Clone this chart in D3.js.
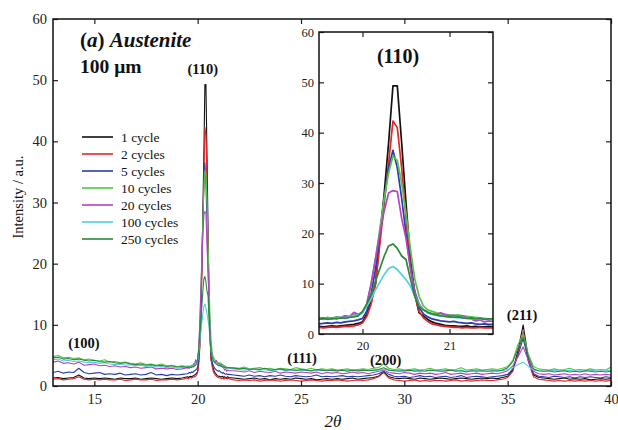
<!DOCTYPE html>
<html>
<head>
<meta charset="utf-8">
<script src="https://cdn.jsdelivr.net/npm/d3@7"></script>
<style>
    body { margin: 0; background: #fff; }
    svg { display: block; }
</style>
</head>
<body>
<div id="chart"></div>
<script>
'use strict';

/* data */

// scan segments: [start, step, count] -> coarse / fine around (110) / coarse
var scanSegments = [[13, 0.25, 26], [19.5, 0.05, 41], [21.75, 0.25, 74]];

var seriesNames = ['1 cycle', '2 cycles', '5 cycles', '10 cycles', '20 cycles', '100 cycles', '250 cycles'];
var seriesColors = ['#111111', '#e3262b', '#2b3cae', '#55c448', '#b543c4', '#52d0e2', '#2a8a3a'];

// intensity per scan point (segment A, B, C concatenated)
var cycle1 = [
    1.3,1.4,1.2,1.3,1.4,1.8,1.3,1.2,1.3,1.2,1.3,1.2,1.1,1.3,1.2,1.2,1.3,1.1,1.2,1.3,1.2,1.1,1.2,1.3,1.2,1.3,
    1.5,1.4,1.5,1.6,1.5,1.6,1.7,1.8,1.9,2.1,2.4,4.0,6.5,10,19,28,38,49.3,49.3,38,26,15,8,4.2,3.6,2.9,2.4,2.1,1.9,1.7,1.6,1.6,1.5,1.5,1.6,1.4,1.5,1.4,1.4,1.5,1.4,
    1.3,1.2,1.1,1.2,1.3,1.1,1.2,1.0,1.2,1.1, 1.2,1.1,1.3,1.2,1.1,1.2,1.0,1.1,1.2,1.1, 1.2,1.1,1.2,1.3,1.1,1.2,1.3,1.4,1.6,2.3,
    1.5,1.3,1.2,1.3,1.2,1.1,1.3,1.2,1.1,1.2, 1.3,1.2,1.1,1.2,1.3,1.2,1.1,1.2,1.3,1.2, 1.3,1.2,1.4,1.6,2.6,5.8,10.0,4.5,1.8,1.4,
    1.3,1.2,1.1,1.2,1.3,1.1,1.2,1.1,1.2,1.0, 1.1,1.2,1.1,1.2
];
var cycle2 = [
    1.1,1.2,1.0,1.1,1.2,1.5,1.1,1.0,1.1,1.0,1.1,1.0,1.0,1.1,0.9,1.0,1.1,1.0,1.0,1.1,0.9,1.0,1.0,1.1,1.0,1.1,
    1.3,1.2,1.3,1.4,1.3,1.4,1.5,1.5,1.6,1.8,2.2,3.5,6,10,18,26,34,42.3,41,33,23,14,8,4.5,3.2,2.5,2.0,1.8,1.6,1.5,1.4,1.3,1.3,1.2,1.3,1.2,1.2,1.3,1.2,1.2,1.2,
    1.0,0.9,1.0,0.9,1.0,0.8,0.9,1.0,0.9,0.8, 0.9,1.0,0.9,0.8,0.9,1.0,0.9,0.8,0.9,0.9, 1.0,0.9,0.8,0.9,1.0,0.9,1.0,1.2,1.5,2.2,
    1.3,1.0,0.9,0.8,0.9,1.0,0.8,0.9,0.8,0.9, 0.9,0.8,0.9,1.0,0.8,0.9,0.8,0.9,1.0,0.9, 0.9,1.0,1.1,1.4,2.4,5.3,8.9,4.0,1.5,1.1,
    1.0,0.9,0.8,0.9,0.8,0.9,0.8,0.9,0.8,0.9, 0.8,0.9,0.8,0.9
];
var cycle5 = [
    2.2,2.4,2.1,2.3,2.2,2.9,2.2,2.0,2.1,2.2,1.9,2.0,1.9,2.1,1.8,1.9,2.0,1.8,1.9,2.2,1.8,1.9,1.7,1.9,1.8,1.9,
    2.0,2.1,2.2,2.1,2.3,2.2,2.4,2.5,2.6,2.8,3.1,4.6,8,13,20,27,33,36.5,33,27,20,13.5,8.5,5.2,4.0,3.4,3.0,2.8,2.6,2.5,2.4,2.5,2.3,2.2,2.1,2.2,2.0,1.9,2.0,1.9,1.9,
    1.8,1.7,1.6,1.8,1.6,1.7,1.5,1.7,1.6,1.8, 1.6,1.5,1.7,1.6,1.5,1.6,1.8,1.5,1.6,1.5, 1.6,1.7,1.5,1.6,1.5,1.6,1.7,1.8,2.0,2.4,
    1.9,1.6,1.5,1.6,1.4,1.5,1.7,1.5,1.6,1.4, 1.5,1.6,1.4,1.5,1.7,1.4,1.5,1.6,1.5,1.4, 1.5,1.6,1.7,1.9,2.8,5.0,7.8,4.2,2.0,1.6,
    1.5,1.4,1.6,1.5,1.4,1.5,1.3,1.5,1.4,1.5, 1.4,1.3,1.5,1.4
];
var cycle10 = [
    4.8,5.0,4.6,4.7,4.5,4.6,4.3,4.4,4.2,4.1,4.3,3.9,4.0,3.8,3.9,3.7,3.6,3.8,3.5,3.6,3.4,3.6,3.3,3.4,3.2,3.3,
    3.2,3.0,3.3,3.1,3.4,3.3,3.6,3.5,3.8,3.9,4.2,6,10,15,21,27,32,35.3,34.5,30,24,17,11,7.5,5.6,4.8,4.5,4.2,4.0,3.9,3.8,3.7,3.8,3.6,3.5,3.4,3.3,3.2,3.1,3.0,3.0,
    3.0,2.9,3.1,2.8,2.9,3.0,2.8,2.9,2.7,2.9, 2.8,2.7,3.0,2.8,2.7,2.9,2.6,2.8,2.7,2.8, 2.6,2.7,2.8,2.6,2.7,2.8,2.7,2.9,3.0,3.6,
    2.9,2.7,2.8,2.6,2.7,2.8,2.6,2.7,2.9,2.6, 2.7,2.8,2.6,2.7,3.0,2.6,2.7,2.8,2.6,2.7, 2.8,2.7,2.9,3.2,4.2,6.8,8.6,5.2,3.2,2.8,
    2.7,2.6,2.8,2.6,2.7,2.9,2.6,2.7,2.6,2.8, 2.6,2.7,2.6,3.1
];
var cycle20 = [
    3.9,4.1,3.7,3.8,3.6,3.9,3.4,3.5,3.6,3.3,3.4,3.2,3.3,3.1,3.2,3.0,3.1,2.9,3.0,3.1,2.8,2.9,2.8,2.9,2.7,2.8,
    3.0,2.9,3.1,3.0,3.3,3.2,3.6,3.4,4.3,3.9,4.3,6,10,15,20,24.5,28,28.5,28.3,23,19,13,8.5,6,4.8,4.3,4.0,3.9,4.2,3.8,3.6,3.7,3.4,3.6,3.2,3.0,2.6,2.8,2.4,2.6,2.5,
    2.5,2.4,2.3,2.5,2.2,2.4,2.3,2.2,2.4,2.1, 2.3,2.2,2.1,2.3,2.2,2.1,2.3,2.0,2.2,2.1, 2.2,2.0,2.1,2.3,2.1,2.2,2.0,2.2,2.4,2.6,
    2.2,2.1,2.0,2.2,2.1,1.9,2.1,2.0,2.1,1.9, 2.0,2.2,1.9,2.0,2.1,1.9,2.0,2.1,1.9,2.0, 2.1,2.0,2.2,2.5,3.3,4.8,6.4,4.2,2.4,2.0,
    1.9,2.0,1.8,1.9,2.0,1.8,1.9,1.8,2.0,1.8, 1.9,1.8,1.9,1.8
];
var cycle100 = [
    4.3,4.4,4.1,4.2,4.0,4.1,3.9,3.8,3.9,3.7,3.8,3.6,3.5,3.6,3.4,3.5,3.3,3.4,3.2,3.3,3.1,3.2,3.0,3.1,2.9,3.0,
    3.3,3.1,3.0,3.2,3.1,3.3,3.2,3.4,3.6,3.8,4.2,5.5,7,8.8,10.3,11.8,13.0,13.4,12.8,11.8,10.8,9.6,7.5,5.8,4.8,4.2,3.9,3.7,3.6,3.5,3.3,3.4,3.2,3.3,3.1,3.0,3.1,2.9,3.0,2.9,2.9,
    2.8,2.7,2.6,2.8,2.7,2.6,2.7,2.5,2.6,2.7, 2.5,2.6,2.7,2.5,2.6,2.4,2.6,2.5,2.6,2.5, 2.4,2.6,2.5,2.6,2.4,2.5,2.6,2.5,2.6,2.7,
    2.6,2.5,2.6,2.4,2.5,2.6,2.5,2.7,2.5,2.6, 2.5,2.4,2.6,2.5,2.6,2.4,2.5,2.6,2.5,2.4, 2.5,2.6,2.5,2.7,3.0,3.5,3.9,3.2,2.6,2.5,
    2.4,2.5,2.6,2.4,2.5,2.6,2.4,2.5,2.4,2.6, 2.5,2.4,2.5,2.6
];
var cycle250 = [
    4.6,4.7,4.4,4.5,4.3,4.4,4.2,4.1,4.2,4.0,3.9,4.0,3.8,3.7,3.8,3.6,3.5,3.6,3.4,3.5,3.3,3.4,3.2,3.3,3.1,3.2,
    3.0,3.2,2.9,3.1,3.0,3.2,3.1,3.3,3.4,3.6,4.5,6,8,10.5,13,15.5,17.5,17.9,17,15.5,14.8,11,7.5,5.5,4.8,4.3,4.0,3.8,3.6,3.5,3.4,3.3,3.4,3.2,3.1,3.2,3.0,3.1,2.9,3.0,3.0,
    2.9,2.8,2.9,2.7,2.8,2.7,2.9,2.6,2.7,2.8, 2.6,2.7,2.5,2.7,2.6,2.5,2.7,2.6,2.5,2.6, 2.5,2.6,2.4,2.6,2.5,2.6,2.5,2.6,2.7,3.0,
    2.6,2.5,2.4,2.5,2.6,2.4,2.5,2.4,2.6,2.5, 2.4,2.5,2.6,2.4,2.5,2.3,2.5,2.4,2.5,2.4, 2.5,2.4,2.6,3.0,4.0,6.2,8.0,4.8,2.8,2.5,
    2.4,2.5,2.3,2.4,2.5,2.3,2.4,2.3,2.5,2.4, 2.3,2.4,2.3,2.4
];

var seriesValues = [cycle1, cycle2, cycle5, cycle10, cycle20, cycle100, cycle250];

var xTicks = [15, 20, 25, 30, 35, 40];
var yTicks = [0, 10, 20, 30, 40, 50, 60];
var insetXTicks = [20, 21];
var insetYTicks = [0, 10, 20, 30, 40, 50, 60];

var peakLabels = [
    {text: '(110)', at: [20.25, 51]},
    {text: '(100)', at: [14.5, 6.2]},
    {text: '(111)', at: [25.05, 3.7]},
    {text: '(200)', at: [29.1, 3.4]},
    {text: '(211)', at: [35.7, 10.8]}
];

(function drawChart() {

    var width = 618, height = 430;
    var box = {left: 53, top: 19, right: 611, bottom: 386};
    var inBox = {left: 319, top: 32, right: 493, bottom: 334};
    var serif = '"Liberation Serif", "Times New Roman", Times, serif';

    /* scan positions */

    var twoTheta = [];
    scanSegments.forEach(function (seg) {
        for (var i = 0; i < seg[2]; i++) {
            twoTheta.push(Math.round((seg[0] + seg[1] * i) * 100) / 100);
        }
    });

    var series = seriesNames.map(function (name, k) {
        return {
            name: name,
            color: seriesColors[k],
            points: twoTheta.map(function (t, i) { return [t, seriesValues[k][i]]; })
        };
    });

    var svg = d3.select('#chart').append('svg')
        .attr('width', width)
        .attr('height', height)
        .attr('font-family', serif)
        .attr('fill', '#111')
    ;

    /* main plot */

    var x = d3.scaleLinear().domain([13, 40]).range([box.left, box.right]);
    var y = d3.scaleLinear().domain([0, 60]).range([box.bottom, box.top]);

    svg.append('clipPath').attr('id', 'main-clip')
        .append('rect')
        .attr('x', box.left).attr('y', box.top)
        .attr('width', box.right - box.left).attr('height', box.bottom - box.top)
    ;

    var line = d3.line()
        .x(function (d) { return x(d[0]); })
        .y(function (d) { return y(d[1]); })
    ;

    svg.append('g').attr('clip-path', 'url(#main-clip)')
        .selectAll('path')
        .data(series)
        .enter()
        .append('path')
        .attr('d', function (d) { return line(d.points); })
        .attr('fill', 'none')
        .attr('stroke', function (d) { return d.color; })
        .attr('stroke-width', 1.1)
        .attr('stroke-linejoin', 'round')
    ;

    drawAxes(svg, x, y, box, xTicks, yTicks, 14.5, 8, 6);

    /* --- labels */

    svg.append('g')
        .selectAll('text')
        .data(peakLabels)
        .enter()
        .append('text')
        .attr('x', function (d) { return x(d.at[0]); })
        .attr('y', function (d) { return y(d.at[1]); })
        .attr('text-anchor', 'middle')
        .attr('font-size', 14.5)
        .attr('font-weight', 'bold')
        .text(function (d) { return d.text; })
    ;

    var title = svg.append('text')
        .attr('x', 80).attr('y', 47)
        .attr('font-size', 21)
        .attr('font-weight', 'bold')
    ;
    title.append('tspan').text('(');
    title.append('tspan').attr('font-style', 'italic').text('a');
    title.append('tspan').text(') ');
    title.append('tspan').attr('font-style', 'italic').text('Austenite');

    svg.append('text')
        .attr('x', 80).attr('y', 73)
        .attr('font-size', 19.5)
        .attr('font-weight', 'bold')
        .text('100 \u03bcm')
    ;

    svg.append('text')
        .attr('transform', 'translate(23,197) rotate(-90)')
        .attr('text-anchor', 'middle')
        .attr('font-size', 14.5)
        .text('Intensity / a.u.')
    ;

    // axis title sits at the very bottom edge
    svg.append('text')
        .attr('x', 333).attr('y', 427)
        .attr('text-anchor', 'middle')
        .attr('font-size', 17)
        .attr('font-style', 'italic')
        .text('2\u03b8')
    ;

    /* --- legend */

    var legend = svg.append('g')
        .selectAll('g')
        .data(series)
        .enter()
        .append('g')
        .attr('transform', function (d, i) { return 'translate(82,' + (137 + i * 17) + ')'; })
    ;
    legend.append('line')
        .attr('x1', 0).attr('x2', 31)
        .attr('stroke', function (d) { return d.color; })
        .attr('stroke-width', 1.6)
    ;
    legend.append('text')
        .attr('x', 39).attr('y', 4.5)
        .attr('font-size', 13.5)
        .text(function (d) { return d.name; })
    ;

    /* inset */

    var ix = d3.scaleLinear().domain([19.5, 21.5]).range([inBox.left, inBox.right]);
    var iy = d3.scaleLinear().domain([0, 60]).range([inBox.bottom, inBox.top]);

    svg.append('rect')
        .attr('x', inBox.left).attr('y', inBox.top)
        .attr('width', inBox.right - inBox.left).attr('height', inBox.bottom - inBox.top)
        .attr('fill', '#fff')
    ;

    var insetLine = d3.line()
        .x(function (d) { return ix(d[0]); })
        .y(function (d) { return iy(d[1]); })
    ;

    svg.append('g')
        .selectAll('path')
        .data(series)
        .enter()
        .append('path')
        .attr('d', function (d) {
            return insetLine(d.points.filter(function (p) { return p[0] >= 19.5 && p[0] <= 21.5; }));
        })
        .attr('fill', 'none')
        .attr('stroke', function (d) { return d.color; })
        .attr('stroke-width', 1.7)
        .attr('stroke-linejoin', 'round')
    ;

    drawAxes(svg, ix, iy, inBox, insetXTicks, insetYTicks, 12.5, 7, 5);

    svg.append('text')
        .attr('x', 398).attr('y', 63)
        .attr('text-anchor', 'middle')
        .attr('font-size', 20)
        .attr('font-weight', 'bold')
        .text('(110)')
    ;

    /* helpers */

    function drawAxes(root, sx, sy, b, xt, yt, fontSize, padX, padY) {
        var g = root.append('g');
        var fmt = d3.format('d');

        // bottom / left with labels, ticks pointing inward
        g.append('g')
            .attr('transform', 'translate(0,' + b.bottom + ')')
            .call(d3.axisBottom(sx).tickValues(xt).tickFormat(fmt).tickSizeInner(-5).tickSizeOuter(0).tickPadding(padX))
        ;
        g.append('g')
            .attr('transform', 'translate(' + b.left + ',0)')
            .call(d3.axisLeft(sy).tickValues(yt).tickFormat(fmt).tickSizeInner(-5).tickSizeOuter(0).tickPadding(padY))
        ;

        // top / right ticks only
        g.append('g')
            .attr('transform', 'translate(0,' + b.top + ')')
            .call(d3.axisTop(sx).tickValues(xt).tickSizeInner(-5).tickSizeOuter(0).tickFormat(''))
        ;
        g.append('g')
            .attr('transform', 'translate(' + b.right + ',0)')
            .call(d3.axisRight(sy).tickValues(yt).tickSizeInner(-5).tickSizeOuter(0).tickFormat(''))
        ;

        g.selectAll('.domain').remove();
        g.selectAll('g').attr('font-family', serif).attr('font-size', fontSize);
        g.selectAll('text').attr('fill', '#222');
        g.selectAll('.tick line').attr('stroke', '#222').attr('stroke-width', 1.2);

        root.append('rect')
            .attr('x', b.left).attr('y', b.top)
            .attr('width', b.right - b.left).attr('height', b.bottom - b.top)
            .attr('fill', 'none')
            .attr('stroke', '#111')
            .attr('stroke-width', 1.5)
        ;
    }
})();
</script>
</body>
</html>
